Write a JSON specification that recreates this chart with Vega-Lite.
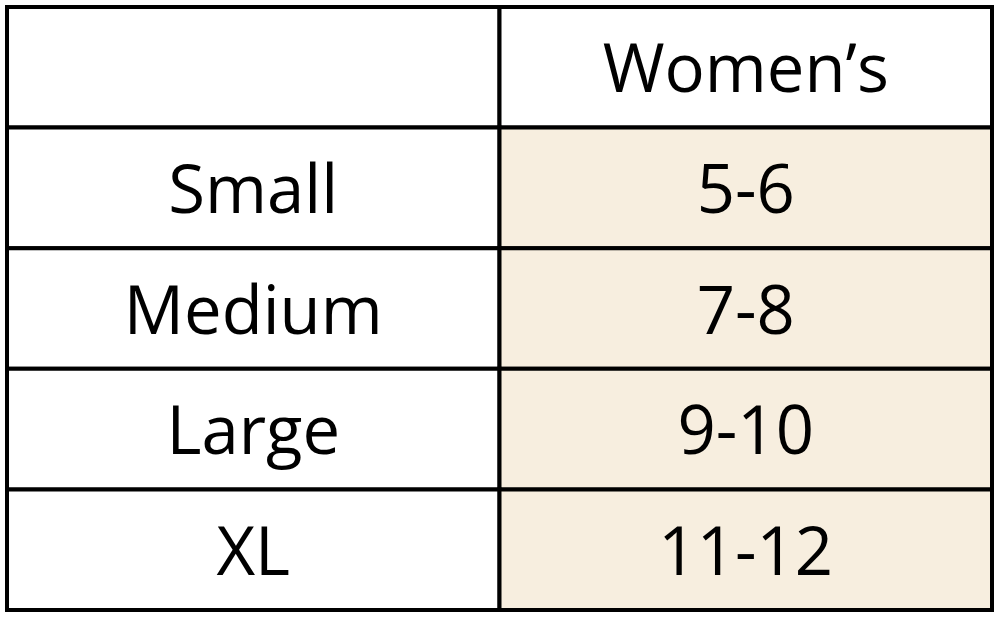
{
  "$schema": "https://vega.github.io/schema/vega-lite/v6.json",
  "autosize": {"type": "fit", "contains": "padding"},
  "width": 1000,
  "height": 621,
  "padding": {"left": 5, "top": 5, "right": 6, "bottom": 9},
  "background": "white",
  "config": {"view": {"stroke": null}},
  "data": {
    "values": [
      {"row": "header", "col": "size", "label": "", "section": "header"},
      {"row": "header", "col": "womens", "label": "Women’s", "section": "header"},
      {"row": "Small", "col": "size", "label": "Small", "section": "label"},
      {"row": "Small", "col": "womens", "label": "5-6", "section": "value"},
      {"row": "Medium", "col": "size", "label": "Medium", "section": "label"},
      {"row": "Medium", "col": "womens", "label": "7-8", "section": "value"},
      {"row": "Large", "col": "size", "label": "Large", "section": "label"},
      {"row": "Large", "col": "womens", "label": "9-10", "section": "value"},
      {"row": "XL", "col": "size", "label": "XL", "section": "label"},
      {"row": "XL", "col": "womens", "label": "11-12", "section": "value"}
    ]
  },
  "encoding": {
    "x": {
      "field": "col",
      "type": "nominal",
      "sort": ["size", "womens"],
      "scale": {"paddingInner": 0, "paddingOuter": 0},
      "axis": null
    },
    "y": {
      "field": "row",
      "type": "nominal",
      "sort": ["header", "Small", "Medium", "Large", "XL"],
      "scale": {"paddingInner": 0, "paddingOuter": 0},
      "axis": null
    }
  },
  "layer": [
    {
      "mark": {"type": "rect", "stroke": "black", "strokeWidth": 4},
      "encoding": {
        "fill": {
          "field": "section",
          "type": "nominal",
          "scale": {"domain": ["header", "label", "value"], "range": ["#ffffff", "#ffffff", "#f7eedf"]},
          "legend": null
        }
      }
    },
    {
      "mark": {"type": "text", "font": "Open Sans", "fontSize": 67, "color": "black", "baseline": "middle", "align": "center", "dy": 5},
      "encoding": {
        "text": {"field": "label"}
      }
    }
  ]
}
